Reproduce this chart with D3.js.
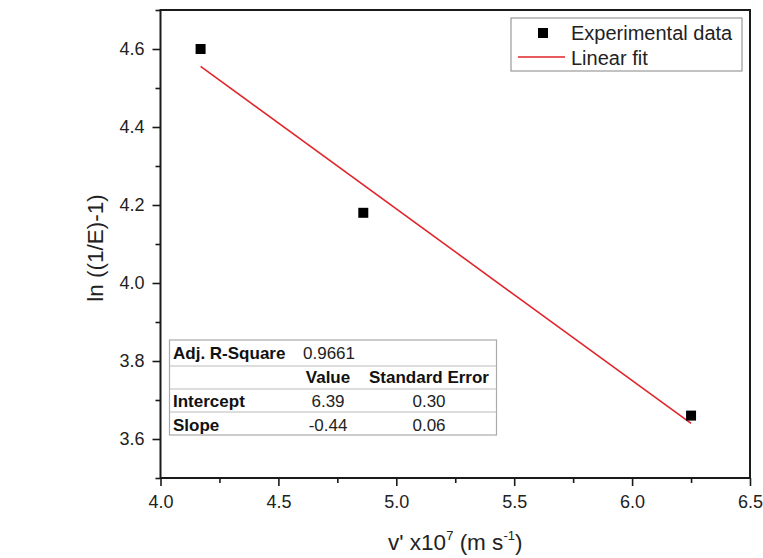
<!DOCTYPE html>
<html>
<head>
<meta charset="utf-8">
<script src="https://cdn.jsdelivr.net/npm/d3@7"></script>
<style>
  body { margin: 0; background: #fff; }
  svg { font-family: "Liberation Sans", Arial, sans-serif; }
</style>
</head>
<body>
<div class="chart"><svg></svg></div>
<script>
// measured points
var xVals = [4.17, 4.86, 6.25];
var yVals = [4.60, 4.18, 3.66];

// fit results (from the stats table)
var fitIntercept = 6.39;
var fitSlope = -0.44;
var adjR2 = "0.9661";
var statHeaders = ["", "Value", "Standard Error"];
var statRows = [
    ["Intercept", "6.39", "0.30"],
    ["Slope", "-0.44", "0.06"]
];

var xTicks = [4.0, 4.5, 5.0, 5.5, 6.0, 6.5];
var xMinor = [4.25, 4.75, 5.25, 5.75, 6.25];
var yTicks = [3.6, 3.8, 4.0, 4.2, 4.4, 4.6];
var yMinor = [3.5, 3.7, 3.9, 4.1, 4.3, 4.5, 4.7];

var legendNames = ["Experimental data", "Linear fit"];

var width = 763, height = 558;
var margin = {left: 160.5, right: 13, top: 10, bottom: 80};
var ink = "#1a1a1a";
var red = "#e0262b";

var svg = d3.select(".chart svg")
    .attr("width", width)
    .attr("height", height);

var x = d3.scaleLinear().domain([4.0, 6.5]).range([margin.left, width - margin.right]);
var y = d3.scaleLinear().domain([3.5, 4.7]).range([height - margin.bottom, margin.top]);

// fit line
var fitData = [d3.min(xVals), d3.max(xVals)].map(function(v){
    return [v, fitIntercept + fitSlope * v];
});
svg.append("path")
    .datum(fitData)
    .attr("fill", "none")
    .attr("stroke", red)
    .attr("stroke-width", 1.6)
    .attr("d", d3.line().x(function(d){ return x(d[0]); }).y(function(d){ return y(d[1]); }));

// data squares
var sq = 10;
svg.selectAll("rect.pt")
    .data(d3.zip(xVals, yVals))
    .enter().append("rect")
    .attr("class", "pt")
    .attr("x", function(d){ return x(d[0]) - sq/2; })
    .attr("y", function(d){ return y(d[1]) - sq/2; })
    .attr("width", sq)
    .attr("height", sq)
    .attr("fill", "#000");

// axes
svg.append("g")
    .attr("transform", "translate(0," + y.range()[0] + ")")
    .call(d3.axisBottom(x).tickValues(xTicks).tickSize(8).tickPadding(9).tickFormat(d3.format(".1f")));
svg.append("g")
    .attr("transform", "translate(0," + y.range()[0] + ")")
    .call(d3.axisBottom(x).tickValues(xMinor).tickSize(5).tickFormat(""));

svg.append("g")
    .attr("transform", "translate(" + x.range()[0] + ",0)")
    .call(d3.axisLeft(y).tickValues(yTicks).tickSize(8).tickPadding(8).tickFormat(d3.format(".1f")));
svg.append("g")
    .attr("transform", "translate(" + x.range()[0] + ",0)")
    .call(d3.axisLeft(y).tickValues(yMinor).tickSize(5).tickFormat(""));

svg.selectAll(".tick line").attr("stroke", ink).attr("stroke-width", 1.6);
svg.selectAll(".tick text").attr("fill", "#222").style("font-size", "18px");
svg.selectAll(".domain").remove();

// frame
svg.append("rect")
    .attr("x", x.range()[0])
    .attr("y", y.range()[1])
    .attr("width", x.range()[1] - x.range()[0])
    .attr("height", y.range()[0] - y.range()[1])
    .attr("fill", "none")
    .attr("stroke", ink)
    .attr("stroke-width", 2);

// axis titles
var xt = svg.append("text")
    .attr("x", (x.range()[0] + x.range()[1]) / 2)
    .attr("y", 550)
    .attr("text-anchor", "middle")
    .attr("fill", "#222")
    .style("font-size", "22.5px");
xt.append("tspan").text("v' x10");
xt.append("tspan").attr("dy", -10).style("font-size", "13px").text("7");
xt.append("tspan").attr("dy", 10).text(" (m s");
xt.append("tspan").attr("dy", -10).style("font-size", "13px").text("-1");
xt.append("tspan").attr("dy", 10).text(")");

svg.append("text")
    .attr("transform", "translate(103," + ((y.range()[0] + y.range()[1]) / 2 + 4) + ") rotate(-90)")
    .attr("text-anchor", "middle")
    .attr("fill", "#222")
    .style("font-size", "22.5px")
    .text("ln ((1/E)-1)");

// legend
var legend = svg.append("g");
legend.append("rect")
    .attr("x", 511).attr("y", 18)
    .attr("width", 231).attr("height", 53)
    .attr("fill", "#fff")
    .attr("stroke", "#999")
    .attr("stroke-width", 1.2);
legend.append("rect")
    .attr("x", 543 - sq/2).attr("y", 33 - sq/2)
    .attr("width", sq).attr("height", sq)
    .attr("fill", "#000");
legend.append("line")
    .attr("x1", 518).attr("x2", 565)
    .attr("y1", 57).attr("y2", 57)
    .attr("stroke", red).attr("stroke-width", 1.6);
legend.selectAll("text")
    .data(legendNames)
    .enter().append("text")
    .attr("x", 571)
    .attr("y", function(d, i){ return 40 + i * 25; })
    .attr("fill", "#222")
    .style("font-size", "20px")
    .text(function(d){ return d; });

// stats table
var table = svg.append("g");
var tLeft = 169.5, tRight = 496.5;
var rowLines = [340, 366, 389, 412, 435];
table.append("rect")
    .attr("x", tLeft).attr("y", rowLines[0])
    .attr("width", tRight - tLeft).attr("height", rowLines[4] - rowLines[0])
    .attr("fill", "#fff")
    .attr("stroke", "#aaa")
    .attr("stroke-width", 1.2);
table.selectAll("line.row")
    .data(rowLines.slice(1, 4))
    .enter().append("line")
    .attr("class", "row")
    .attr("x1", tLeft).attr("x2", tRight)
    .attr("y1", function(d){ return d; }).attr("y2", function(d){ return d; })
    .attr("stroke", "#bbb")
    .attr("stroke-width", 1);

var colX = [173, 328, 429];
table.append("text")
    .attr("x", colX[0]).attr("y", 359)
    .style("font-size", "17px").style("font-weight", "bold")
    .attr("fill", "#111")
    .text("Adj. R-Square");
table.append("text")
    .attr("x", 303).attr("y", 359)
    .style("font-size", "17px")
    .attr("fill", "#222")
    .text(adjR2);
table.selectAll("text.hdr")
    .data(statHeaders)
    .enter().append("text")
    .attr("class", "hdr")
    .attr("x", function(d, i){ return colX[i]; })
    .attr("y", 383)
    .attr("text-anchor", "middle")
    .style("font-size", "17px").style("font-weight", "bold")
    .attr("fill", "#111")
    .text(function(d){ return d; });

statRows.forEach(function(row, r){
    row.forEach(function(cell, c){
        table.append("text")
            .attr("x", colX[c])
            .attr("y", 407 + r * 23.5)
            .attr("text-anchor", c === 0 ? "start" : "middle")
            .style("font-size", "17px")
            .style("font-weight", c === 0 ? "bold" : "normal")
            .attr("fill", c === 0 ? "#111" : "#222")
            .text(cell);
    });
});
</script>
</body>
</html>
